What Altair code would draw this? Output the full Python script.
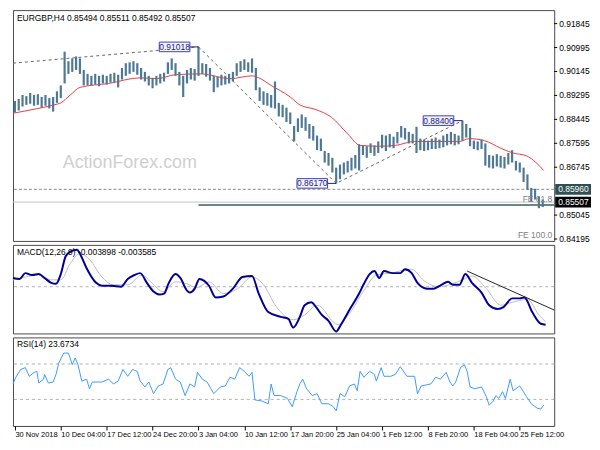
import json
import altair as alt
import pandas as pd

FONT = "Liberation Sans"

# ---------------- data ----------------
bar_high = [0.8910,0.8917,0.8931,0.8927,0.8938,0.8931,0.8934,0.8924,0.8931,0.8920,
0.8924,0.8944,0.8965,0.9085,0.9051,0.9061,0.9068,0.9061,0.9020,0.9006,
0.8999,0.9006,0.8999,0.9003,0.8999,0.9006,0.9010,0.9003,0.9027,0.9044,
0.9047,0.9051,0.9044,0.9027,0.9013,0.8999,0.8992,0.8999,0.9006,0.9010,
0.9047,0.9061,0.9044,0.9013,0.8999,0.9020,0.9027,0.9023,0.91018,0.9044,
0.9041,0.9027,0.8999,0.8996,0.9003,0.8999,0.9006,0.9013,0.9044,0.9051,
0.9058,0.9047,0.9061,0.9027,0.8958,0.8944,0.8938,0.8931,0.8979,0.8903,
0.8896,0.8886,0.8869,0.8821,0.8848,0.8862,0.8852,0.8828,0.8821,0.8787,
0.8776,0.8732,0.8725,0.8708,0.8673,0.8684,0.8691,0.8697,0.8708,0.8718,
0.8756,0.8752,0.8749,0.8759,0.8752,0.8766,0.8790,0.8787,0.8793,0.8783,
0.8800,0.8821,0.8814,0.8800,0.8793,0.8818,0.8776,0.8773,0.8769,0.8776,
0.8780,0.8773,0.8787,0.8793,0.8800,0.8793,0.8787,0.8840,0.8828,0.8814,
0.8769,0.8766,0.8773,0.8759,0.8718,0.8715,0.8721,0.8715,0.8711,0.8725,
0.8735,0.8697,0.8691,0.8673,0.8649,0.8601,0.8598,0.8570,0.8560]

bar_low = [0.8869,0.8876,0.8890,0.8896,0.8900,0.8893,0.8896,0.8886,0.8893,0.8883,
0.8872,0.8903,0.8920,0.8972,0.9006,0.9013,0.9020,0.9006,0.8965,0.8965,
0.8965,0.8968,0.8962,0.8972,0.8968,0.8975,0.8975,0.8958,0.8986,0.8999,
0.9006,0.9013,0.9003,0.8986,0.8979,0.8965,0.8955,0.8965,0.8972,0.8979,
0.9006,0.9020,0.8999,0.8965,0.8924,0.8972,0.8986,0.8982,0.8999,0.9006,
0.8996,0.8982,0.8941,0.8958,0.8965,0.8968,0.8972,0.8979,0.8999,0.9013,
0.9020,0.9013,0.9010,0.8948,0.8910,0.8896,0.8893,0.8886,0.8883,0.8855,
0.8852,0.8835,0.8828,0.8766,0.8800,0.8814,0.8804,0.8776,0.8769,0.8735,
0.8732,0.8691,0.8680,0.8656,0.8617,0.8632,0.8649,0.8656,0.8663,0.8670,
0.8663,0.8718,0.8708,0.8725,0.8715,0.8725,0.8742,0.8732,0.8745,0.8742,
0.8759,0.8780,0.8773,0.8759,0.8759,0.8725,0.8735,0.8732,0.8735,0.8739,
0.8739,0.8742,0.8745,0.8752,0.8756,0.8752,0.8756,0.8769,0.8780,0.8749,
0.8739,0.8735,0.8739,0.8680,0.8673,0.8670,0.8677,0.8673,0.8670,0.8684,
0.8691,0.8663,0.8656,0.8622,0.8594,0.8553,0.8560,0.8529,0.8533]

ma_idx = [-0.5,4.5,10.25,12,14.5,17,24.5,32.75,37,42,48.75,56.25,62,63.75,67,72,74.5,
          78.75,82.75,87,90.25,95.25,99.5,104.5,116.25,118.75,122.75,127,130.25,133.75,136.25,138.25]
ma_val = [0.8866,0.8879,0.8896,0.8903,0.8931,0.8958,0.8972,0.8992,0.8989,0.9003,0.9006,0.8989,
          0.8999,0.8992,0.8965,0.8924,0.8896,0.8879,0.8852,0.8793,0.8752,0.8749,0.8752,0.8766,
          0.8766,0.8776,0.8769,0.8742,0.8725,0.8715,0.8691,0.8663]

macd_idx = [-0.5,1.25,2.75,4.5,6.25,7.75,9.5,10.75,12,13.25,14.5,16.25,17,18.75,21.25,22.75,25.25,
            27.75,29.5,31.25,32.75,34.5,36.25,37.75,39,40.25,42,43.25,45,45.75,47,48.25,49.5,50.75,
            52.5,54.5,57,59.5,62,63.75,66.25,69.5,71.5,72.75,74.5,75.75,77.5,78.75,80.25,82,84,
            85.25,87.75,90,91.25,92.75,94,95.25,96.5,98.75,100.75,102,103.75,105.25,107.75,109.5,
            111.5,113.25,114.5,116.25,117.75,119.5,122,124,126.25,127.75,130,132,133.25,135.25,
            137.5,138.75]
macd_val = [0.00100,0.00089,0.00155,0.00133,0.00144,0.00100,0.00044,0.00033,0.00144,0.00344,
            0.00400,0.00422,0.00377,0.00211,0.00044,0.00011,0.00011,0.0,0.00089,0.00133,0.00155,
            0.00044,-0.00056,-0.00089,-0.00078,0.00044,0.00144,0.00100,-0.00044,-0.00067,-0.00022,
            0.00089,0.00067,0.00011,-0.00122,-0.00111,-0.00022,0.00111,0.00122,-0.00078,-0.00289,
            -0.00344,-0.00366,-0.00466,-0.00344,-0.00211,-0.00178,-0.00233,-0.00322,-0.00389,
            -0.00511,-0.00433,-0.00244,-0.00078,0.00033,0.00144,0.00178,0.00100,0.00178,0.00155,
            0.00155,0.00200,0.00155,0.00044,-0.00022,-0.00022,0.00022,0.00056,0.00022,0.00022,
            0.00144,0.00044,-0.00067,-0.00211,-0.00255,-0.00233,-0.00133,-0.00133,-0.00122,
            -0.00289,-0.00422,-0.00433]

sig_idx = [-0.5,2.75,6.25,9.5,12,14.5,17,19.5,22.75,25.75,29.5,33.25,35.75,38.75,42,45,47.5,
           50.75,54.5,58.25,62,65,68.25,72.75,75.75,79,84.5,87,91.25,94.5,98.25,103.75,107,
           110.75,117,119.5,123.25,127,130,134,137,138.75]
sig_val = [0.00078,0.00111,0.00133,0.00078,0.00078,0.00266,0.00377,0.00311,0.00111,0.00022,
           0.00022,0.00133,0.00044,-0.00056,0.00056,0.00033,-0.00011,0.00056,-0.00078,-0.00022,
           0.00111,0.00022,-0.00222,-0.00377,-0.00322,-0.00211,-0.00433,-0.00333,-0.00044,
           0.00133,0.00155,0.00200,0.00067,0.0,0.00078,0.00122,-0.00022,-0.00211,-0.00178,
           -0.00144,-0.00322,-0.00400]

rsi_idx = [-0.5,0.25,1.5,2.75,3.75,5,5.75,6.25,7.5,7.75,8.75,10,10.75,11.5,12.75,14,15,15.75,
           16.5,17.5,18.75,19.5,20.25,21.5,22.75,24.5,25.75,27,28.25,29.5,30.75,32,32.75,34,35,
           36.25,37.5,38.75,40,40.75,42,43.25,44.5,45.75,47,47.75,49,50.25,52,53.75,55,56.25,
           57.5,58.75,60,61.25,62,62.75,64.5,66.25,67,67.75,69.5,71.25,72.5,73.75,74.5,75.25,
           76.25,77.75,79,80.25,82,83.25,84,85,86.25,87.5,88.75,89.5,90.25,91.25,92.75,94,94.5,
           95.75,96.5,98.25,99.5,100.75,102.5,104.5,105.25,106.25,108.75,110,111.25,112.75,
           113.75,114.5,115.25,116.5,117.5,118.25,119,120.25,122,123.25,124,125,125.75,126.5,
           127.5,128.25,129.5,130.25,132,133.75,135,136.5,137.5,138.25]
rsi_val = [47.4,55.0,63.8,65.9,56.1,60.5,61.6,48.5,52.9,58.3,48.5,49.6,58.3,71.4,82.3,82.3,69.2,
           76.8,69.2,50.7,52.9,42.0,49.6,49.6,49.6,52.9,47.4,50.7,63.8,56.1,63.8,61.6,50.7,44.1,
           49.6,36.5,45.2,47.4,63.8,65.9,52.9,49.6,34.3,47.4,44.1,60.5,52.9,49.6,36.5,44.1,45.2,
           55.0,52.9,65.9,61.6,56.1,60.5,29.4,28.3,25.1,47.4,34.3,34.3,31.1,21.8,38.7,47.4,52.9,
           42.0,34.3,36.5,25.1,25.1,21.8,16.9,36.5,33.2,45.2,47.4,39.8,61.6,55.0,61.6,58.3,50.7,
           65.9,56.1,56.1,58.3,67.0,56.1,56.1,36.5,45.2,47.4,55.0,52.9,60.5,49.6,45.2,49.6,65.9,
           69.2,61.6,44.1,42.0,44.1,33.2,23.4,27.8,34.3,31.1,38.7,31.1,52.9,39.8,45.2,33.2,25.1,
           20.2,19.1,23.4]

price_ticks = [0.91845, 0.90995, 0.90145, 0.89295, 0.88445, 0.87595, 0.86745, 0.85045, 0.84195]
macd_ticks = [0.004083, 0.0, -0.005169]
rsi_ticks = [0, 30, 70, 100]
xtick_idx = [0, 12, 24, 36, 48, 60, 72, 84, 96, 108, 120, 132]
xtick_labels = ["30 Nov 2018", "10 Dec 04:00", "17 Dec 12:00", "24 Dec 20:00", "3 Jan 04:00",
                "10 Jan 12:00", "17 Jan 20:00", "25 Jan 04:00", "1 Feb 12:00", "8 Feb 20:00",
                "18 Feb 04:00", "25 Feb 12:00"]

swing_idx = [48, 84, 117]
swing_val = [0.91018, 0.86170, 0.88400]
swing_lab = ["0.91018", "0.86170", "0.88400"]
trend_idx = [-0.5, 48]
trend_val = [0.9044, 0.91018]
fe618 = 0.85404
level_dash = 0.85960
bid = 0.85507
macd_tl_idx = [118.25, 141]
macd_tl_val = [0.00178, -0.00266]

# ---------------- layout ----------------
W = 544
H_MAIN = 232
H_SUB = 89
XDOM = [-0.5, 141]
LBL = 8.5
xs = alt.Scale(domain=XDOM, nice=False, zero=False)
ys = alt.Scale(domain=[0.84128, 0.92325], nice=False, zero=False)
ms = alt.Scale(domain=[-0.00533, 0.00477], nice=False, zero=False)
rs = alt.Scale(domain=[0, 100], nice=False, zero=False)


def X(field="i"):
    return alt.X(f"{field}:Q", scale=xs, axis=None, title=None)


def Yp(field="p"):
    return alt.Y(f"{field}:Q", scale=ys, axis=None, title=None)


def ptext(text, x, y, size=8.5, color="#000", align="left", **kw):
    return alt.Chart(pd.DataFrame({"t": [text]})).mark_text(
        align=align, baseline="middle", font=FONT, fontSize=size, color=color, **kw
    ).encode(x=alt.value(x), y=alt.value(y), text="t:N")


bars_df = pd.DataFrame({"i": list(range(len(bar_high))), "high": bar_high, "low": bar_low})
ma_df = pd.DataFrame({"i": ma_idx, "p": ma_val})

# price scale drawn on the right (ticks + labels)
ptick_df = pd.DataFrame({"p": price_ticks})
ptick_marks = alt.Chart(ptick_df).mark_rule(color="#000", strokeWidth=1).encode(
    x=alt.value(W), x2=alt.value(W + 3), y=Yp())
ptick_labels = alt.Chart(ptick_df).mark_text(
    font=FONT, fontSize=LBL, color="#000", align="left", baseline="middle").encode(
    x=alt.value(W + 5), y=Yp(), text=alt.Text("p:Q", format=".5f"))

watermark = ptext("ActionForex.com", 50, 154, size=18, color="#cfcfcf")

bid_line = alt.Chart(pd.DataFrame({"p": [bid]})).mark_rule(color="#c4c4c4", strokeWidth=1).encode(
    y=Yp())
dash_level = alt.Chart(pd.DataFrame({"p": [level_dash]})).mark_rule(
    color="#8a8a8a", strokeDash=[3, 2], strokeWidth=1).encode(y=Yp())
fe_line = alt.Chart(pd.DataFrame({"i": [swing_idx[0]], "i2": [XDOM[1]], "p": [fe618]})).mark_rule(
    color="#3d5c60", strokeWidth=1.5).encode(x=X(), x2="i2:Q", y=Yp())

dl_df = pd.DataFrame({
    "i": trend_idx + swing_idx,
    "p": trend_val + swing_val,
    "g": ["t"] * len(trend_idx) + ["fe"] * len(swing_idx),
})
dashed = alt.Chart(dl_df).mark_line(color="#666", strokeDash=[3, 3], strokeWidth=1).encode(
    x=X(), y=Yp(), detail="g:N")

ma_line = alt.Chart(ma_df).mark_line(color="#f03c3c", strokeWidth=1, interpolate="monotone").encode(
    x=X(), y=Yp())

bars = alt.Chart(bars_df).mark_rule(color="#4f7893", strokeWidth=2.2).encode(
    x=X(), y=Yp("low"), y2="high:Q")

ann_df = pd.DataFrame({"ie": swing_idx, "p": swing_val, "lab": swing_lab})
ann_base = alt.Chart(ann_df).transform_calculate(
    x0="datum.ie - 10.25", x1="datum.ie - 2.25", xc="datum.ie - 6.25",
    ptop="datum.p + 0.0017", pbot="datum.p - 0.0017")
ann_box = ann_base.mark_rect(fill="#f4f4ff", stroke="#4040b8", strokeWidth=1).encode(
    x=X("x0"), x2="x1:Q", y=Yp("ptop"), y2="pbot:Q")
ann_txt = ann_base.mark_text(font=FONT, fontSize=LBL, color="#202080", baseline="middle").encode(
    x=X("xc"), y=Yp(), text="lab:N")
ann_link = ann_base.mark_rule(color="#202080", strokeWidth=1).encode(x=X("x1"), x2="ie:Q", y=Yp())

box_df = pd.DataFrame({"p": [level_dash, bid], "lab": ["0.85960", "0.85507"],
                       "col": ["#2f4f52", "#000000"]})
box_base = alt.Chart(box_df).transform_calculate(ptop="datum.p + 0.0019", pbot="datum.p - 0.0019")
axis_box = box_base.mark_rect().encode(
    x=alt.value(W + 1), x2=alt.value(W + 37), y=Yp("ptop"), y2="pbot:Q",
    color=alt.Color("col:N", scale=None))
axis_box_txt = box_base.mark_text(font=FONT, fontSize=LBL, color="white", align="left",
                                  baseline="middle").encode(
    x=alt.value(W + 4), y=Yp(), text="lab:N")

fe_txt = alt.Chart(pd.DataFrame({"p": [fe618], "t": ["FE 61.8"]})).mark_text(
    font=FONT, fontSize=LBL, color="#808080", align="right", baseline="bottom", dy=-1).encode(
    x=alt.value(W - 2), y=Yp(), text="t:N")
fe100_txt = ptext("FE 100.0", W - 2, H_MAIN - 6, color="#808080", align="right")

title_main = ptext("EURGBP,H4  0.85494 0.85511 0.85492 0.85507", 4, 8)

main = alt.layer(
    bid_line, watermark, dash_level, fe_line, dashed, ma_line, bars,
    ann_link, ann_box, ann_txt, ptick_marks, ptick_labels, axis_box, axis_box_txt,
    fe_txt, fe100_txt, title_main
).properties(width=W, height=H_MAIN)

# ---------------- MACD ----------------
macd_axis = alt.Axis(orient="right", values=macd_ticks, grid=False, domain=False, tickSize=3,
                     tickColor="#000", labelFontSize=LBL, labelFont=FONT, labelColor="#000",
                     labelPadding=2, title=None,
                     labelExpr="datum.value == 0 ? '0.00' : (datum.value < 0 ? '-' + format(-datum.value, '.6f') : format(datum.value, '.6f'))")
macd_zero = alt.Chart(pd.DataFrame({"v": [0.0]})).mark_rule(color="#b0b0b0", strokeDash=[3, 3]).encode(
    y=alt.Y("v:Q", scale=ms, axis=macd_axis, title=None))
sig_line = alt.Chart(pd.DataFrame({"i": sig_idx, "v": sig_val})).mark_line(
    color="#bdbdbd", strokeWidth=1, interpolate="monotone").encode(
    x=X(), y=alt.Y("v:Q", scale=ms, axis=None))
macd_line = alt.Chart(pd.DataFrame({"i": macd_idx, "v": macd_val})).mark_line(
    color="#000098", strokeWidth=2, interpolate="monotone").encode(
    x=X(), y=alt.Y("v:Q", scale=ms, axis=None))
macd_tl = alt.Chart(pd.DataFrame({"i": macd_tl_idx, "v": macd_tl_val})).mark_line(
    color="#222", strokeWidth=1).encode(x=X(), y=alt.Y("v:Q", scale=ms, axis=None))
macd_title = ptext("MACD(12,26,9) -0.003898 -0.003585", 4, 7)

macd = alt.layer(macd_zero, sig_line, macd_line, macd_tl, macd_title).properties(width=W, height=H_SUB)

# ---------------- RSI ----------------
rsi_axis = alt.Axis(orient="right", values=rsi_ticks, grid=False, domain=False, tickSize=3,
                    tickColor="#000", labelFontSize=LBL, labelFont=FONT, labelColor="#000",
                    labelPadding=2, title=None, labelFlush=True)
x_axis = alt.Axis(values=xtick_idx, grid=False, domain=False, tickSize=4, tickColor="#000",
                  labelAlign="left", labelFont=FONT, labelFontSize=7.5, labelColor="#000",
                  labelPadding=1, labelFlush=False, labelOverlap=False, title=None,
                  labelExpr=json.dumps(xtick_labels) + "[round(datum.value / 12)]")
rsi_lvls = alt.Chart(pd.DataFrame({"v": [30, 70]})).mark_rule(color="#b0b0b0", strokeDash=[3, 3]).encode(
    y=alt.Y("v:Q", scale=rs, axis=rsi_axis, title=None))
rsi_line = alt.Chart(pd.DataFrame({"i": rsi_idx, "v": rsi_val})).mark_line(
    color="#3d9bff", strokeWidth=1).encode(
    x=alt.X("i:Q", scale=xs, axis=x_axis, title=None),
    y=alt.Y("v:Q", scale=rs, axis=None))
rsi_title = ptext("RSI(14) 23.6734", 4, 7)

rsi = alt.layer(rsi_lvls, rsi_line, rsi_title).properties(width=W, height=H_SUB)

chart = alt.vconcat(main, macd, rsi, spacing=4, bounds="flush").properties(
    padding=0, background="white"
).configure_view(stroke="#4a4a4a", strokeWidth=1)

chart.save("out.html", embed_options={"renderer": "svg", "actions": False})
